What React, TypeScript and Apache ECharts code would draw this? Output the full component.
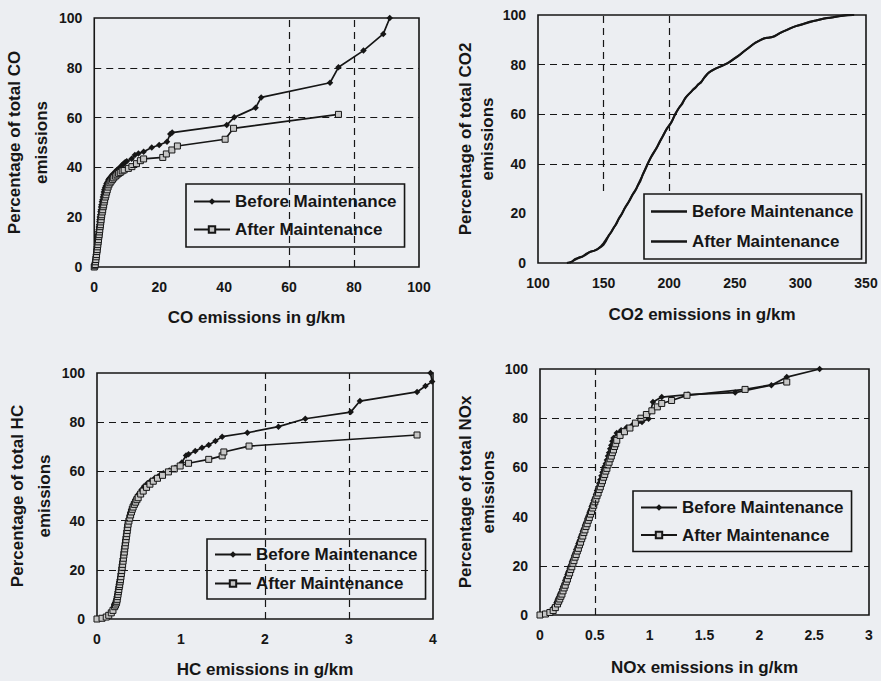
import React, { useEffect, useRef } from "react";
import * as echarts from "echarts";

// ---- values ---------------------------------------------------------------

const pctTicks = [0, 20, 40, 60, 80, 100];

// CO: [g/km, cumulative % of total CO]
const coBefore = [
  [0, 0], [0.1, 0.6], [0.2, 1.2], [0.3, 2.1], [0.4, 3], [0.45, 4.1], [0.5, 5], [0.6, 6.2],
  [0.7, 7], [0.75, 8.1], [0.8, 9], [0.9, 10.2], [1, 11], [1.05, 12.1], [1.1, 13], [1.2, 14.2],
  [1.3, 15], [1.4, 16.1], [1.5, 17], [1.55, 18.2], [1.6, 19], [1.7, 20.1], [1.8, 21],
  [1.9, 22.2], [2, 23], [2.1, 24.1], [2.2, 25], [2.35, 26.2], [2.5, 27], [2.65, 28.1],
  [2.8, 29], [2.95, 30.1], [3.1, 31], [3.3, 31.8], [3.5, 32.5], [3.75, 33.4], [4, 34],
  [4.3, 34.9], [4.6, 35.5], [5, 36], [5.3, 36.5], [5.6, 37.1], [6, 37.5], [6.5, 38.4], [7, 39],
  [7.5, 39.6], [8, 40], [8.5, 40.9], [9, 41.5], [9.5, 42.1], [10, 42.5], [11.5, 43.5],
  [12.5, 45], [13.6, 45.6], [15.2, 46.3], [17.7, 48], [20, 49], [22.4, 50.3], [23.4, 53.4],
  [24, 54], [40.8, 57], [43.1, 60.1], [49.7, 64], [51.4, 68.1], [72.6, 74], [75.2, 80.2],
  [82.9, 86.9], [89, 93.6], [91, 100],
];
const coAfter = [
  [0, 0], [0.2, 0.5], [0.3, 1], [0.4, 2.1], [0.5, 3], [0.6, 4.1], [0.7, 5], [0.8, 6.2],
  [0.9, 7], [1, 8.1], [1.1, 9], [1.2, 10.1], [1.3, 11], [1.4, 12.2], [1.5, 13], [1.6, 14.1],
  [1.7, 15], [1.8, 16.2], [1.9, 17], [2, 18.1], [2.1, 19], [2.2, 20.2], [2.3, 21],
  [2.45, 22.1], [2.6, 23], [2.75, 24.2], [2.9, 25], [3.05, 26.1], [3.2, 27], [3.4, 28.1],
  [3.6, 29], [3.8, 30.1], [4, 31], [4.25, 32.1], [4.5, 33], [4.85, 33.8], [5.2, 34.5],
  [5.6, 35.2], [6, 35.8], [6.5, 36.5], [7, 37], [7.5, 37.6], [8, 38], [8.6, 38.6], [9.2, 39],
  [10.5, 39.6], [11.6, 40.3], [13, 41.5], [14.2, 42.7], [15.2, 43.4], [21.1, 44], [22.2, 45.4],
  [23.9, 47], [25.6, 48.6], [40.3, 51.3], [42.9, 55.7], [75.2, 61.3],
];

// CO2
const co2Before = [
  [122, 0], [126, 0.5], [128, 1.5], [131, 2.2], [134, 2.6], [137, 3.8], [140, 4.6], [143, 5],
  [146, 5.8], [148, 6.5], [150, 7.4], [152, 9], [154, 11.2], [156, 12.6], [158, 14.5],
  [160, 16], [162, 18.3], [164, 19.8], [166, 22], [168, 23.6], [170, 25.4], [172, 27.5],
  [174, 29], [176, 31.2], [178, 33], [180, 35.8], [182, 38], [184, 40.4], [186, 42.6],
  [188, 44.3], [190, 46], [192, 48], [194, 50], [196, 52], [198, 54], [200, 55.4], [202, 57],
  [204, 59.4], [206, 61.3], [208, 63], [210, 64.2], [212, 66.4], [214, 67.6], [216, 68.6],
  [218, 69.8], [220, 70.6], [222, 72], [224, 72.6], [226, 74.2], [228, 75.5], [230, 76.8],
  [233, 77.8], [236, 78.6], [240, 79.4], [244, 80.4], [248, 81.8], [252, 83.2], [256, 85],
  [260, 86.5], [264, 88.2], [268, 89.5], [272, 90.6], [276, 90.8], [280, 91.3], [284, 92.6],
  [288, 93.6], [292, 94.6], [296, 95.4], [300, 96], [305, 96.8], [310, 97.6], [315, 98.2],
  [320, 98.8], [325, 99.1], [330, 99.6], [336, 100], [341, 100],
];
const co2After = [
  [124, 0], [127, 1], [130, 1.8], [133, 2.4], [136, 3.2], [139, 4.3], [142, 4.8], [145, 5.4],
  [148, 6.8], [150, 8], [152, 9.6], [155, 11.8], [157, 13.6], [159, 15.2], [161, 17.4],
  [163, 19], [165, 21], [167, 23], [169, 24.6], [171, 26.5], [173, 28.4], [175, 30],
  [177, 32.4], [179, 34.6], [181, 37], [183, 39.4], [185, 41.5], [187, 43.5], [189, 45.3],
  [191, 47], [193, 49.2], [195, 51], [197, 53], [199, 54.8], [201, 56.2], [203, 58.2],
  [205, 60.5], [207, 62.2], [209, 63.6], [211, 65.4], [213, 67], [215, 68.2], [217, 69.2],
  [219, 70.4], [221, 71.3], [223, 72.4], [225, 73.4], [227, 75], [229, 76.2], [232, 77.4],
  [235, 78.3], [238, 79], [242, 80], [246, 81], [250, 82.6], [254, 84], [258, 85.8],
  [262, 87.4], [266, 89], [270, 90], [274, 90.8], [278, 91], [282, 92], [286, 93.2], [290, 94],
  [294, 95], [298, 95.8], [302, 96.4], [307, 97.3], [312, 97.8], [318, 98.6], [323, 98.9],
  [328, 99.4], [334, 99.8], [340, 100],
];

// HC
const hcBefore = [
  [0, 0], [0.05, 0.3], [0.1, 0.8], [0.13, 1.5], [0.16, 2.5], [0.18, 3.5], [0.2, 5],
  [0.21, 5.8], [0.22, 6.5], [0.225, 7.3], [0.23, 8], [0.235, 9.1], [0.24, 10], [0.245, 11.2],
  [0.25, 12], [0.255, 13.1], [0.26, 14], [0.265, 15.2], [0.27, 16], [0.275, 17.3],
  [0.28, 18.5], [0.285, 19.6], [0.29, 21], [0.295, 22.3], [0.3, 23.5], [0.305, 24.6],
  [0.31, 26], [0.315, 27.3], [0.32, 28.5], [0.325, 29.6], [0.33, 31], [0.335, 32.3],
  [0.34, 33.5], [0.345, 34.6], [0.35, 36], [0.355, 37.3], [0.36, 38.5], [0.37, 39.9],
  [0.38, 41], [0.39, 42.4], [0.4, 43.5], [0.41, 44.6], [0.42, 45.5], [0.43, 46.6],
  [0.44, 47.5], [0.455, 48.6], [0.47, 49.5], [0.485, 50.4], [0.5, 51], [0.53, 52.5],
  [0.56, 54], [0.6, 55.2], [0.64, 56.2], [0.68, 57], [0.73, 58], [0.79, 59.2], [0.86, 60.4],
  [0.93, 61.5], [1.01, 63.6], [1.06, 66.5], [1.09, 67], [1.17, 68.3], [1.25, 69.6],
  [1.33, 70.7], [1.41, 72.4], [1.49, 74.1], [1.79, 75.7], [2.16, 78.2], [2.48, 81.4],
  [3.02, 84.1], [3.13, 88.6], [3.81, 92.3], [3.91, 94.7], [3.99, 96.5], [3.97, 100],
];
const hcAfter = [
  [0, 0], [0.06, 0.3], [0.11, 0.8], [0.14, 1.5], [0.17, 2.5], [0.19, 3.5], [0.21, 5],
  [0.22, 5.7], [0.23, 6.5], [0.235, 7.2], [0.24, 8], [0.245, 9.1], [0.25, 10], [0.255, 11.1],
  [0.26, 12], [0.265, 13.2], [0.27, 14], [0.275, 15.1], [0.28, 16], [0.285, 17.2],
  [0.29, 18.5], [0.295, 19.7], [0.3, 21], [0.305, 22.2], [0.31, 23.5], [0.315, 24.7],
  [0.32, 26], [0.325, 27.2], [0.33, 28.5], [0.335, 29.7], [0.34, 31], [0.345, 32.2],
  [0.35, 33.5], [0.355, 34.7], [0.36, 36], [0.365, 37.2], [0.37, 38.5], [0.38, 39.8],
  [0.39, 41], [0.4, 42.3], [0.41, 43.5], [0.42, 44.6], [0.43, 45.5], [0.445, 46.6],
  [0.46, 47.5], [0.475, 48.5], [0.49, 49.3], [0.52, 50.8], [0.55, 52], [0.59, 53.5],
  [0.63, 54.8], [0.67, 56], [0.72, 57.2], [0.78, 58.4], [0.85, 59.8], [0.92, 61],
  [0.99, 62.2], [1.09, 63.3], [1.33, 64.9], [1.49, 66.3], [1.51, 67.9], [1.81, 70.3],
  [3.81, 74.8],
];

// NOx
const noxBefore = [
  [0, 0], [0.04, 0.5], [0.08, 1.2], [0.11, 2], [0.13, 3.5], [0.15, 5], [0.16, 6.1],
  [0.17, 7], [0.18, 8.1], [0.19, 9], [0.2, 10.4], [0.21, 11.5], [0.22, 12.6], [0.23, 14],
  [0.24, 15.1], [0.25, 16.5], [0.26, 17.6], [0.27, 19], [0.28, 20.1], [0.29, 21.5],
  [0.3, 22.6], [0.31, 24], [0.32, 25.1], [0.33, 26.5], [0.34, 27.6], [0.35, 29], [0.36, 30.1],
  [0.37, 31.5], [0.38, 32.6], [0.39, 34], [0.4, 35.1], [0.41, 36.5], [0.42, 37.6], [0.43, 39],
  [0.44, 40.1], [0.45, 41.5], [0.46, 42.6], [0.47, 44], [0.48, 45.1], [0.49, 46.5],
  [0.5, 47.6], [0.51, 49], [0.52, 50.6], [0.53, 52], [0.54, 53.6], [0.55, 55], [0.56, 56.6],
  [0.57, 58], [0.58, 59.1], [0.59, 60.5], [0.6, 61.6], [0.61, 63], [0.62, 64.6], [0.63, 66],
  [0.64, 67.6], [0.65, 69], [0.66, 70.6], [0.67, 72], [0.7, 74], [0.74, 75.1], [0.79, 76.2],
  [0.84, 77.1], [0.93, 78.5], [0.99, 79.8], [1.03, 86.6], [1.11, 88.6], [1.35, 89.6],
  [1.78, 90.4], [2.11, 93.4], [2.25, 96.7], [2.55, 100],
];
const noxAfter = [
  [0, 0], [0.05, 0.4], [0.09, 1], [0.12, 1.8], [0.14, 3], [0.16, 4.5], [0.17, 5.6],
  [0.18, 6.5], [0.19, 7.6], [0.2, 8.5], [0.21, 9.8], [0.22, 11], [0.23, 12.1], [0.24, 13.5],
  [0.25, 14.6], [0.26, 16], [0.27, 17.1], [0.28, 18.5], [0.29, 19.6], [0.3, 21], [0.31, 22.1],
  [0.32, 23.5], [0.33, 24.6], [0.34, 26], [0.35, 27.1], [0.36, 28.5], [0.37, 29.6], [0.38, 31],
  [0.39, 32.1], [0.4, 33.5], [0.41, 34.6], [0.42, 36], [0.43, 37.1], [0.44, 38.5],
  [0.45, 39.6], [0.46, 41], [0.47, 42.1], [0.48, 43.5], [0.49, 44.6], [0.5, 46], [0.51, 47.1],
  [0.52, 48.5], [0.53, 49.6], [0.54, 51], [0.55, 52.1], [0.56, 53.5], [0.57, 54.6], [0.58, 56],
  [0.59, 57.1], [0.6, 58.5], [0.61, 59.6], [0.62, 61], [0.63, 62.1], [0.64, 63.5],
  [0.65, 64.6], [0.66, 66], [0.67, 67.1], [0.68, 68.5], [0.69, 69.6], [0.7, 71], [0.73, 73],
  [0.77, 74.5], [0.82, 76], [0.87, 78], [0.92, 80], [0.97, 81.5], [1.02, 83], [1.07, 84.6],
  [1.11, 86], [1.2, 87.2], [1.34, 89.3], [1.87, 91.7], [2.25, 94.7],
];

// axis ranges [min, max, step]
const coRange = [0, 100, 20];
const co2Range = [100, 350, 50];
const hcRange = [0, 4, 1];
const noxRange = [0, 3, 0.5];

// dashed reference lines drawn in each panel
const coGuides = { y: [40, 60, 80], x: [60, 80] };
const co2Guides = { y: [40, 60, 80], x: [150, 200], xFrom: 29 };
const hcGuides = { y: [20, 40, 60, 80], x: [2, 3] };
const noxGuides = { y: [20, 60, 80], x: [0.5] };

const seriesNames = ["Before Maintenance", "After Maintenance"];

// ---- styling --------------------------------------------------------------

const FONT = "'Liberation Sans', Arial, Helvetica, sans-serif";
const INK = "#161616";
const PAPER = "#eceef2";

type Panel = {
  grid: { left: number; top: number; width: number; height: number };
  range: number[];
  before: number[][];
  after: number[][];
  guides: { y: number[]; x: number[]; xFrom?: number };
  xTitle: string;
  yTitle: string;
  xGap: number;
  yGap: number;
  yLineHeight: number;
  markers: boolean;
  legend: { left: number; top: number; gap: number; padV: number };
};

const panels: Panel[] = [
  {
    grid: { left: 94, top: 18, width: 325, height: 249 },
    range: coRange,
    before: coBefore,
    after: coAfter,
    guides: coGuides,
    xTitle: "CO emissions in g/km",
    yTitle: "Percentage of total CO\nemissions",
    xGap: 42,
    yGap: 33,
    yLineHeight: 27,
    markers: true,
    legend: { left: 186, top: 184, gap: 8, padV: 7.5 },
  },
  {
    grid: { left: 538, top: 15, width: 328, height: 248 },
    range: co2Range,
    before: co2Before,
    after: co2After,
    guides: co2Guides,
    xTitle: "CO2 emissions in g/km",
    yTitle: "Percentage of total CO2\nemissions",
    xGap: 43,
    yGap: 39,
    yLineHeight: 22,
    markers: false,
    legend: { left: 644, top: 194, gap: 10, padV: 7.5 },
  },
  {
    grid: { left: 97, top: 373, width: 336, height: 246 },
    range: hcRange,
    before: hcBefore,
    after: hcAfter,
    guides: hcGuides,
    xTitle: "HC emissions in g/km",
    yTitle: "Percentage of total HC\nemissions",
    xGap: 42,
    yGap: 36,
    yLineHeight: 27,
    markers: true,
    legend: { left: 207, top: 539, gap: 9, padV: 5.5 },
  },
  {
    grid: { left: 540, top: 369, width: 329, height: 246 },
    range: noxRange,
    before: noxBefore,
    after: noxAfter,
    guides: noxGuides,
    xTitle: "NOx emissions in g/km",
    yTitle: "Percentage of total NOx\nemissions",
    xGap: 44,
    yGap: 38,
    yLineHeight: 23.5,
    markers: true,
    legend: { left: 633, top: 491, gap: 7.5, padV: 6.5 },
  },
];

const tickText = { color: INK, fontFamily: FONT, fontWeight: "bold" as const, fontSize: 14 };
const titleText = { color: INK, fontFamily: FONT, fontWeight: "bold" as const, fontSize: 17 };

function buildOption() {
  const grid: any[] = [];
  const xAxis: any[] = [];
  const yAxis: any[] = [];
  const series: any[] = [];
  const legend: any[] = [];

  panels.forEach((p, i) => {
    grid.push({
      ...p.grid,
      show: true,
      borderColor: INK,
      borderWidth: 1.6,
      backgroundColor: "transparent",
      containLabel: false,
    });
    xAxis.push({
      gridIndex: i,
      type: "value",
      min: p.range[0],
      max: p.range[1],
      interval: p.range[2],
      axisLine: { show: false },
      axisTick: { show: false },
      splitLine: { show: false },
      axisLabel: { ...tickText, margin: 13, showMinLabel: true, showMaxLabel: true },
      name: p.xTitle,
      nameLocation: "middle",
      nameGap: p.xGap,
      nameTextStyle: titleText,
    });
    yAxis.push({
      gridIndex: i,
      type: "value",
      min: pctTicks[0],
      max: pctTicks[pctTicks.length - 1],
      interval: pctTicks[1] - pctTicks[0],
      axisLine: { show: false },
      axisTick: { show: false },
      splitLine: { show: false },
      axisLabel: { ...tickText, margin: 12, showMinLabel: true, showMaxLabel: true },
      name: p.yTitle,
      nameLocation: "middle",
      nameRotate: 90,
      nameGap: p.yGap,
      nameTextStyle: { ...titleText, lineHeight: p.yLineHeight },
    });

    const guideData: any[] = [
      ...p.guides.y.map((v) => ({ yAxis: v })),
      ...p.guides.x.map((v) =>
        p.guides.xFrom !== undefined
          ? [{ coord: [v, p.guides.xFrom] }, { coord: [v, 100] }]
          : { xAxis: v }
      ),
    ];

    series.push({
      name: "gridlines",
      type: "line",
      xAxisIndex: i,
      yAxisIndex: i,
      data: [],
      z: 1,
      silent: true,
      markLine: {
        silent: true,
        symbol: ["none", "none"],
        label: { show: false },
        emphasis: { disabled: true },
        lineStyle: { type: [7, 5], color: INK, width: 1.2 },
        data: guideData,
      },
    });

    const lineStyle = { color: INK, width: p.markers ? 1.7 : 2 };
    series.push({
      name: seriesNames[0],
      type: "line",
      xAxisIndex: i,
      yAxisIndex: i,
      data: p.before,
      z: 3,
      symbol: p.markers ? "diamond" : "none",
      symbolSize: 6.5,
      itemStyle: { color: INK },
      lineStyle,
    });
    series.push({
      name: seriesNames[1],
      type: "line",
      xAxisIndex: i,
      yAxisIndex: i,
      data: p.after,
      z: 3,
      symbol: p.markers ? "rect" : "none",
      symbolSize: 6,
      itemStyle: p.markers
        ? { color: "#c6c6c6", borderColor: INK, borderWidth: 1 }
        : { color: INK },
      lineStyle,
    });

    legend.push({
      left: p.legend.left,
      top: p.legend.top,
      orient: "vertical",
      data: seriesNames.map((n) =>
        p.markers
          ? { name: n }
          : { name: n, icon: "rect", itemStyle: { color: INK, borderWidth: 0 } }
      ),
      itemWidth: 36,
      itemHeight: p.markers ? 8 : 2.5,
      itemGap: p.legend.gap,
      padding: [p.legend.padV, 8, p.legend.padV, 7],
      borderColor: INK,
      borderWidth: 1.6,
      borderRadius: 0,
      backgroundColor: PAPER,
      selectedMode: false,
      inactiveColor: INK,
      textStyle: { ...titleText, fontSize: 17, lineHeight: 20 },
    });
  });

  return {
    animation: false,
    backgroundColor: PAPER,
    grid,
    xAxis,
    yAxis,
    series,
    legend,
  };
}

export default function App() {
  const ref = useRef<HTMLDivElement>(null);

  useEffect(() => {
    if (!ref.current) return;
    const chart = echarts.init(ref.current, undefined, { renderer: "svg" });
    chart.setOption(buildOption() as any);
    return () => chart.dispose();
  }, []);

  return (
    <div
      ref={ref}
      style={{ position: "fixed", left: 0, top: 0, width: 881, height: 681, background: PAPER }}
    />
  );
}
